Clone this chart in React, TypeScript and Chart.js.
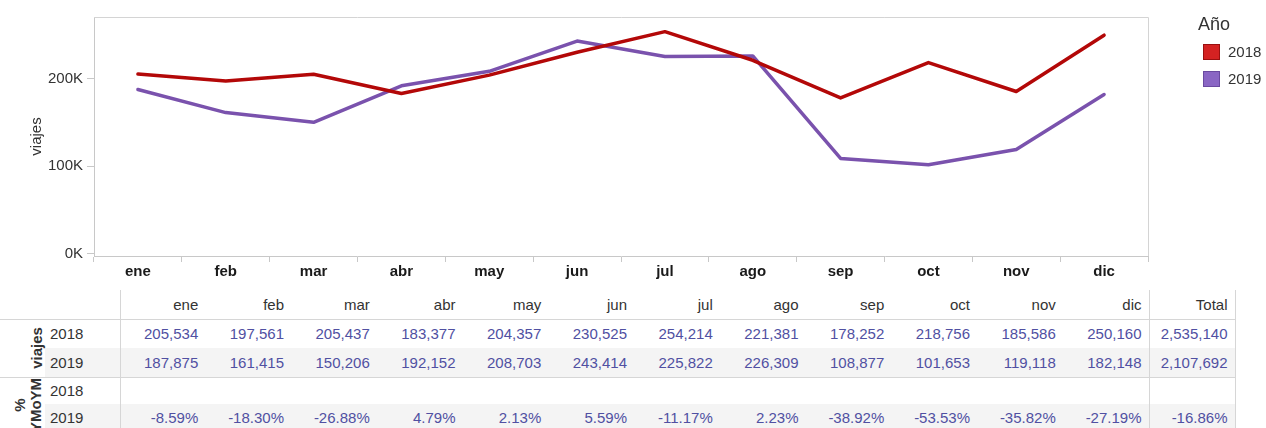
import React, { useEffect, useRef } from "react";
import { Chart, registerables } from "chart.js";
Chart.register(...registerables);

const months = ["ene", "feb", "mar", "abr", "may", "jun", "jul", "ago", "sep", "oct", "nov", "dic"];
const years = ["2018", "2019"];
const viajes2018 = [205534, 197561, 205437, 183377, 204357, 230525, 254214, 221381, 178252, 218756, 185586, 250160];
const viajes2019 = [187875, 161415, 150206, 192152, 208703, 243414, 225822, 226309, 108877, 101653, 119118, 182148];
const totals = [2535140, 2107692];
const pct2019 = [-8.59, -18.3, -26.88, 4.79, 2.13, 5.59, -11.17, 2.23, -38.92, -53.53, -35.82, -27.19];
const pctTotal2019 = -16.86;
const yTicks = [0, 100000, 200000];
const lineColors = ["#b30808", "#7a52ad"];
const swatchColors = ["#d42222", "#8a66c4"];
const swatchBorders = ["#9a1010", "#6a4aa0"];

const FONT = "'Liberation Sans', Arial, sans-serif";
const VALUE_COLOR = "#5050a2";
const TEXT_COLOR = "#333333";
const LINE_COLOR = "#d6d6d6";

const boxPlugin = {
  id: "plotBox",
  beforeDatasetsDraw(chart: any) {
    const { ctx, chartArea } = chart;
    const { left, right, top, bottom } = chartArea;
    ctx.save();
    ctx.strokeStyle = "#d4d4d4";
    ctx.lineWidth = 1;
    ctx.beginPath();
    ctx.moveTo(left, Math.round(top) + 0.5);
    ctx.lineTo(Math.round(right) + 0.5, Math.round(top) + 0.5);
    ctx.lineTo(Math.round(right) + 0.5, bottom);
    ctx.stroke();
    ctx.restore();
  },
};

function fmtNum(v: number) {
  return v.toLocaleString("en-US");
}
function fmtPct(v: number) {
  return v.toFixed(2) + "%";
}

const COL0 = 120;
const COLW = 85.75;
const TOTAL_L = COL0 + 12 * COLW;
const TOTAL_R = 1235;
const PAD = 7.5;
const rows = [
  { top: 290, h: 29 },
  { top: 319, h: 29 },
  { top: 348, h: 29 },
  { top: 377, h: 27 },
  { top: 404, h: 28 },
];

function Cell(props: { left: number; right: number; top: number; h: number; text: string; color: string; align?: string }) {
  const { left, right, top, h, text, color, align } = props;
  return (
    <div
      style={{
        position: "absolute",
        left,
        width: right - left,
        top,
        height: h,
        lineHeight: h + "px",
        textAlign: (align || "right") as any,
        boxSizing: "border-box",
        paddingRight: align === "left" ? 0 : PAD,
        fontFamily: FONT,
        fontSize: 15,
        color,
        whiteSpace: "nowrap",
      }}
    >
      {text}
    </div>
  );
}

export default function App() {
  const canvasRef = useRef<HTMLCanvasElement | null>(null);

  useEffect(() => {
    document.body.style.margin = "0";
    const canvas = canvasRef.current;
    if (!canvas) return;
    const font = { family: FONT, size: 15 };
    const chart = new Chart(canvas, {
      type: "line",
      data: {
        labels: months,
        datasets: [
          {
            label: years[0],
            data: viajes2018,
            borderColor: lineColors[0],
            backgroundColor: lineColors[0],
            borderWidth: 3.5,
            pointRadius: 0,
            tension: 0,
            fill: false,
            borderJoinStyle: "round",
            borderCapStyle: "round",
          },
          {
            label: years[1],
            data: viajes2019,
            borderColor: lineColors[1],
            backgroundColor: lineColors[1],
            borderWidth: 3.5,
            pointRadius: 0,
            tension: 0,
            fill: false,
            borderJoinStyle: "round",
            borderCapStyle: "round",
          },
        ],
      },
      options: {
        animation: false,
        responsive: false,
        maintainAspectRatio: false,
        layout: { padding: { top: 17, right: 118, left: 0, bottom: 0 } },
        plugins: { legend: { display: false }, tooltip: { enabled: false } },
        scales: {
          x: {
            offset: true,
            grid: { offset: true, drawOnChartArea: false, drawTicks: true, tickLength: 6, color: "#c8c8c8" },
            border: { color: "#c8c8c8" },
            ticks: { color: "#1a1a1a", font: { family: FONT, size: 15, weight: "bold" }, padding: 1, maxRotation: 0, autoSkip: false },
            afterFit: (s: any) => {
              s.height = 34;
            },
          },
          y: {
            min: -3000,
            max: 271000,
            afterBuildTicks: (s: any) => {
              s.ticks = yTicks.map((v) => ({ value: v }));
            },
            ticks: {
              color: TEXT_COLOR,
              font,
              padding: 4,
              callback: (v: any) => Number(v) / 1000 + "K",
            },
            grid: { drawOnChartArea: false, drawTicks: true, tickLength: 7, color: "#c8c8c8" },
            border: { color: "#c8c8c8" },
            title: { display: true, text: "viajes", font, color: TEXT_COLOR, padding: { top: 28, bottom: 0 } },
            afterFit: (s: any) => {
              s.width = 94;
            },
          },
        },
      } as any,
      plugins: [boxPlugin],
    });
    return () => chart.destroy();
  }, []);

  const valueRows = [viajes2018, viajes2019];

  return (
    <div style={{ position: "relative", width: 1266, height: 428, overflow: "hidden", background: "#fff" }}>
      <canvas ref={canvasRef} width={1266} height={290} style={{ position: "absolute", left: 0, top: 0, display: "block" }} />

      {/* Legend */}
      <div style={{ position: "absolute", left: 1198, top: 12, fontFamily: FONT, fontSize: 18, color: TEXT_COLOR, lineHeight: "24px" }}>
        Año
      </div>
      {years.map((y, i) => (
        <React.Fragment key={"lg" + y}>
          <div
            style={{
              position: "absolute",
              left: 1203,
              top: 44 + i * 27,
              width: 17,
              height: 16,
              boxSizing: "border-box",
              background: swatchColors[i],
              border: "1px solid " + swatchBorders[i],
            }}
          />
          <div style={{ position: "absolute", left: 1228, top: 42 + i * 27, lineHeight: "20px", fontFamily: FONT, fontSize: 15, color: TEXT_COLOR }}>
            {y}
          </div>
        </React.Fragment>
      ))}

      {/* Table banding */}
      <div style={{ position: "absolute", left: 45, width: TOTAL_R - 45, top: rows[2].top, height: rows[2].h, background: "#f4f4f4" }} />
      <div style={{ position: "absolute", left: 45, width: TOTAL_R - 45, top: rows[4].top, height: rows[4].h + 4, background: "#f4f4f4" }} />

      {/* Table lines */}
      <div style={{ position: "absolute", left: 0, width: TOTAL_R + 1, top: 319, height: 1, background: LINE_COLOR }} />
      <div style={{ position: "absolute", left: 0, width: TOTAL_R + 1, top: 377, height: 1, background: LINE_COLOR }} />
      <div style={{ position: "absolute", left: COL0, width: 1, top: 290, height: 140, background: LINE_COLOR }} />
      <div style={{ position: "absolute", left: TOTAL_L, width: 1, top: 290, height: 140, background: LINE_COLOR }} />
      <div style={{ position: "absolute", left: TOTAL_R, width: 1, top: 290, height: 140, background: LINE_COLOR }} />

      {/* Header row */}
      {months.map((m, i) => (
        <Cell key={"h" + m} left={COL0 + i * COLW} right={COL0 + (i + 1) * COLW} top={rows[0].top} h={rows[0].h} text={m} color={TEXT_COLOR} />
      ))}
      <Cell left={TOTAL_L} right={TOTAL_R} top={rows[0].top} h={rows[0].h} text="Total" color={TEXT_COLOR} />

      {/* Row headers */}
      <div
        style={{
          position: "absolute",
          left: 37 - 40,
          top: 348 - 9,
          width: 80,
          height: 18,
          lineHeight: "18px",
          textAlign: "center",
          transform: "rotate(-90deg)",
          fontFamily: FONT,
          fontSize: 15,
          fontWeight: "bold",
          color: TEXT_COLOR,
        }}
      >
        viajes
      </div>
      <div
        style={{
          position: "absolute",
          left: 29 - 40,
          top: 405 - 17,
          width: 80,
          height: 34,
          lineHeight: "16px",
          textAlign: "center",
          transform: "rotate(-90deg)",
          fontFamily: FONT,
          fontSize: 15,
          fontWeight: "bold",
          color: TEXT_COLOR,
        }}
      >
        %<br />
        YMoYM
      </div>
      {[1, 2, 3, 4].map((r) => (
        <div
          key={"yr" + r}
          style={{
            position: "absolute",
            left: 50,
            top: rows[r].top,
            height: rows[r].h,
            lineHeight: rows[r].h + "px",
            fontFamily: FONT,
            fontSize: 15,
            color: TEXT_COLOR,
          }}
        >
          {years[(r - 1) % 2]}
        </div>
      ))}

      {/* viajes values */}
      {valueRows.map((vals, r) =>
        vals.map((v, i) => (
          <Cell
            key={"v" + r + "-" + i}
            left={COL0 + i * COLW}
            right={COL0 + (i + 1) * COLW}
            top={rows[r + 1].top}
            h={rows[r + 1].h}
            text={fmtNum(v)}
            color={VALUE_COLOR}
          />
        ))
      )}
      {totals.map((t, r) => (
        <Cell key={"t" + r} left={TOTAL_L} right={TOTAL_R} top={rows[r + 1].top} h={rows[r + 1].h} text={fmtNum(t)} color={VALUE_COLOR} />
      ))}

      {/* % YMoYM values (2019) */}
      {pct2019.map((v, i) => (
        <Cell key={"p" + i} left={COL0 + i * COLW} right={COL0 + (i + 1) * COLW} top={rows[4].top} h={rows[4].h} text={fmtPct(v)} color={VALUE_COLOR} />
      ))}
      <Cell left={TOTAL_L} right={TOTAL_R} top={rows[4].top} h={rows[4].h} text={fmtPct(pctTotal2019)} color={VALUE_COLOR} />
    </div>
  );
}
